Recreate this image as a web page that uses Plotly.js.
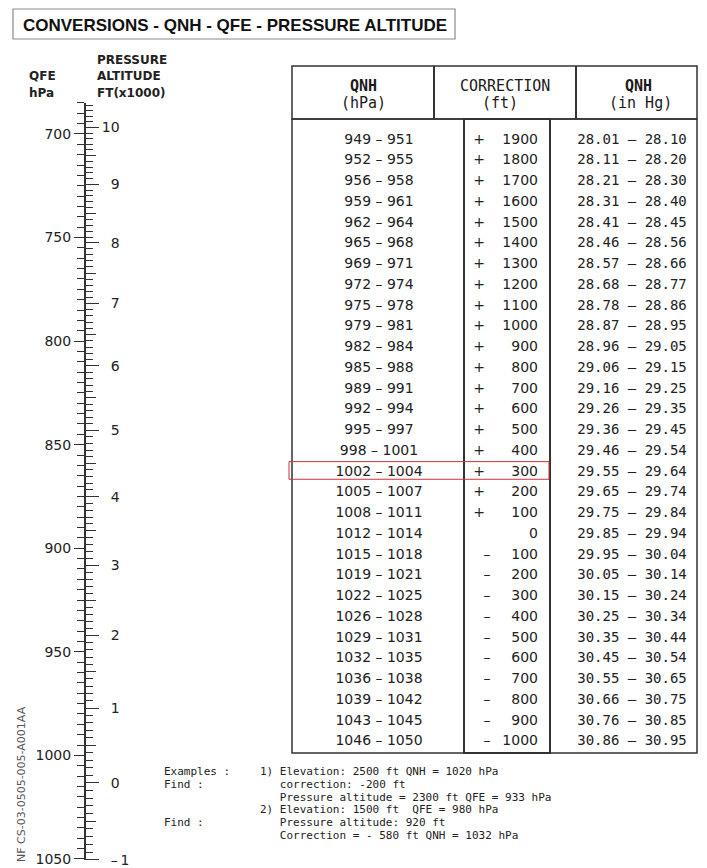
<!DOCTYPE html>
<html><head><meta charset="utf-8">
<script src="https://cdn.plot.ly/plotly-3.0.1.min.js"></script>
<style>html,body{margin:0;padding:0;background:#fff}#chart{width:707px;height:868px}</style>
</head><body><div id="chart"></div>
<script>
// ---------- data ----------
const qfeTickLabels = [700, 750, 800, 850, 900, 950, 1000, 1050];      // hPa
const altitudeTickLabels = [-1, 0, 1, 2, 3, 4, 5, 6, 7, 8, 9, 10];      // ft x1000
const qnhLow  = [949,952,956,959,962,965,969,972,975,979,982,985,989,992,995,998,1002,1005,1008,1012,1015,1019,1022,1026,1029,1032,1036,1039,1043,1046];
const qnhHigh = [951,955,958,961,964,968,971,974,978,981,984,988,991,994,997,1001,1004,1007,1011,1014,1018,1021,1025,1028,1031,1035,1038,1042,1045,1050];
const correctionFt = [1900,1800,1700,1600,1500,1400,1300,1200,1100,1000,900,800,700,600,500,400,300,200,100,0,-100,-200,-300,-400,-500,-600,-700,-800,-900,-1000];
const inHgLow  = ['28.01','28.11','28.21','28.31','28.41','28.46','28.57','28.68','28.78','28.87','28.96','29.06','29.16','29.26','29.36','29.46','29.55','29.65','29.75','29.85','29.95','30.05','30.15','30.25','30.35','30.45','30.55','30.66','30.76','30.86'];
const inHgHigh = ['28.10','28.20','28.30','28.40','28.45','28.56','28.66','28.77','28.86','28.95','29.05','29.15','29.25','29.35','29.45','29.54','29.64','29.74','29.84','29.94','30.04','30.14','30.24','30.34','30.44','30.54','30.65','30.75','30.85','30.95'];
const highlightRow = 16; // 1002 - 1004
const headerTop = ['QNH', 'CORRECTION', 'QNH'];
const headerBottom = ['(hPa)', '(ft)', '(in Hg)'];
const exampleLabels = ['Examples :', 'Find :', '', '', 'Find :', ''];
const exampleLines = [
  '1) Elevation: 2500 ft QNH = 1020 hPa',
  '   correction: -200 ft',
  '   Pressure altitude = 2300 ft QFE = 933 hPa',
  '2) Elevation: 1500 ft  QFE = 980 hPa',
  '   Pressure altitude: 920 ft',
  '   Correction = - 580 ft QNH = 1032 hPa'
];

// ---------- layout helpers ----------
const W = 707, H = 868;
const py = p => 1 - p / H;
const isaPressure = ft => 1013.25 * Math.pow(1 - 6.8756e-6 * ft, 5.2559);

// scale panel
const SCALE_MIN = 685, SCALE_MAX = 1050.6, PX700 = 134, PXPERHPA = 725 / 350;
const pxOf = v => PX700 + (v - 700) * PXPERHPA;
const scaleDomain = [1 - pxOf(SCALE_MAX) / H, 1 - pxOf(SCALE_MIN) / H];
const AXIS_X = 84 / W;

const altMinor = [], altMid = [];
for (let ft = -1000; ft <= 10500; ft += 100) {
  const p = isaPressure(ft);
  if (p < SCALE_MIN || p > SCALE_MAX) continue;
  if (ft % 1000 === 0) continue;
  if (ft % 500 === 0) altMid.push(p); else altMinor.push(p);
}
const altText = a => a === 10 ? '10' : (a < 0 ? '\u2007\u2013\u2009' + Math.abs(a) : '\u2007' + a);

// table rows
const ROW0 = 140, ROWH = 20.75;
const rowRange = [(H - ROW0) / ROWH, -ROW0 / ROWH];
const rows = qnhLow.map((_, i) => i);

const col = { qnh: 379, sign: 479, num: 538, hg: 632 };
const tfont = { family: 'DejaVu Sans, sans-serif', size: 14, color: '#222' };
const ink = '#333';

const traces = [
  { x: [], y: [], xaxis: 'x', yaxis: 'y', type: 'scatter', hoverinfo: 'skip', showlegend: false },
  { x: [], y: [], xaxis: 'x', yaxis: 'y2', type: 'scatter', hoverinfo: 'skip', showlegend: false },
  { x: [], y: [], xaxis: 'x', yaxis: 'y3', type: 'scatter', hoverinfo: 'skip', showlegend: false },
  { x: rows.map(() => col.qnh), y: rows, text: rows.map(i => qnhLow[i] + ' \u2013 ' + qnhHigh[i]),
    mode: 'text', textposition: 'middle center', textfont: tfont, xaxis: 'x', yaxis: 'y4', hoverinfo: 'skip', showlegend: false },
  { x: rows.map(i => correctionFt[i] > 0 ? col.sign : col.sign + 8), y: rows,
    text: rows.map(i => correctionFt[i] > 0 ? '+' : (correctionFt[i] < 0 ? '\u2013' : '')),
    mode: 'text', textposition: 'middle center', textfont: tfont, xaxis: 'x', yaxis: 'y4', hoverinfo: 'skip', showlegend: false },
  { x: rows.map(() => col.num), y: rows, text: rows.map(i => String(Math.abs(correctionFt[i]))),
    mode: 'text', textposition: 'middle left', textfont: tfont, xaxis: 'x', yaxis: 'y4', hoverinfo: 'skip', showlegend: false },
  { x: rows.map(() => col.hg), y: rows, text: rows.map(i => inHgLow[i] + '\u2009\u2013\u2009' + inHgHigh[i]),
    mode: 'text', textposition: 'middle center', textfont: { family: 'DejaVu Sans Mono, monospace', size: 14, color: '#222' },
    xaxis: 'x', yaxis: 'y4', hoverinfo: 'skip', showlegend: false }
];

const line = (x0, y0, x1, y1, w, c) => ({ type: 'line', xref: 'x', yref: 'paper', x0, x1, y0: py(y0), y1: py(y1), line: { color: c || ink, width: w || 1.5 } });
const rect = (x0, y0, x1, y1, w, c) => ({ type: 'rect', xref: 'x', yref: 'paper', x0, x1, y0: py(y0), y1: py(y1), line: { color: c || ink, width: w || 1.5 }, fillcolor: 'rgba(0,0,0,0)' });

const TL = 292, TR = 697, HT = 66, HB = 119, BB = 753, CL = 464, CR = 550, HD1 = 434, HD2 = 576;
const shapes = [
  rect(13, 9, 455, 39, 1.2, '#8a8a8a'),
  rect(TL, HT, TR, HB, 1.5),
  line(HD1, HT, HD1, HB, 2), line(HD2, HT, HD2, HB, 2),
  rect(TL, HB, TR, BB, 1.5),
  rect(CL, HB, CR, BB, 2),
  { type: 'rect', xref: 'x', yref: 'y4', x0: 289, x1: 549, y0: highlightRow - 0.5, y1: highlightRow + 0.35,
    line: { color: '#c8323c', width: 1 }, fillcolor: 'rgba(0,0,0,0)' }
];

const ann = (text, x, y, opts) => Object.assign({ text, x, y: py(y), xref: 'x', yref: 'paper', showarrow: false,
  xanchor: 'left', yanchor: 'middle', font: { family: 'DejaVu Sans, sans-serif', size: 12, color: '#222' } }, opts || {});
const boldLab = { family: 'DejaVu Sans, sans-serif', size: 12, color: '#222' };
const headFont = { family: 'DejaVu Sans Mono, monospace', size: 15, color: '#1a1a1a' };
const monoFont = { family: 'DejaVu Sans Mono, monospace', size: 11, color: '#222' };

const annotations = [
  ann('<b>QFE</b>', 27, 76, { font: boldLab }),
  ann('<b>hPa</b>', 27, 93, { font: boldLab }),
  ann('<b>PRESSURE</b>', 95, 60, { font: boldLab }),
  ann('<b>ALTITUDE</b>', 95, 76, { font: boldLab }),
  ann('<b>FT(x1000)</b>', 95, 93, { font: boldLab }),
  ann('<b>' + headerTop[0] + '</b>', 363, 86, { xanchor: 'center', font: headFont }),
  ann(headerBottom[0], 363, 103, { xanchor: 'center', font: headFont }),
  ann(headerTop[1], 505, 86, { xanchor: 'center', font: headFont }),
  ann(headerBottom[1], 500, 103, { xanchor: 'center', font: headFont }),
  ann('<b>' + headerTop[2] + '</b>', 638, 86, { xanchor: 'center', font: headFont }),
  ann(headerBottom[2], 640, 103, { xanchor: 'center', font: headFont }),
  ann('NF CS-03-0505-005-A001AA', 21, 784, { xanchor: 'center', textangle: -90,
    font: { family: 'DejaVu Sans, sans-serif', size: 11, color: '#555' } })
];
const exY = [771, 784, 797, 809, 822, 835];
exampleLines.forEach((t, i) => {
  if (exampleLabels[i]) annotations.push(ann(exampleLabels[i], 162, exY[i], { font: monoFont }));
  annotations.push(ann(t.replace(/ /g, '\u00a0'), 258, exY[i], { font: monoFont }));
});

const layout = {
  width: W, height: H, margin: { l: 0, r: 0, t: 0, b: 0 },
  paper_bgcolor: '#fff', plot_bgcolor: 'rgba(0,0,0,0)', showlegend: false,
  title: { text: '<b>CONVERSIONS - QNH - QFE - PRESSURE ALTITUDE</b>', x: 23 / W, xanchor: 'left', xref: 'paper',
    y: py(25), yanchor: 'middle', yref: 'paper',
    font: { family: 'Liberation Sans, Arial, sans-serif', size: 17, color: '#111' } },
  xaxis: { domain: [0, 1], range: [0, W], visible: false, fixedrange: true },
  yaxis: { domain: scaleDomain, range: [SCALE_MAX, SCALE_MIN], anchor: 'free', position: AXIS_X, side: 'left',
    showline: true, linecolor: ink, linewidth: 1.5, showgrid: false, zeroline: false, fixedrange: true,
    ticks: 'outside', ticklen: 10, tickwidth: 1, tickcolor: ink,
    tickmode: 'array', tickvals: qfeTickLabels, ticktext: qfeTickLabels.map(String),
    tickfont: { family: 'DejaVu Sans, sans-serif', size: 14, color: '#222' },
    minor: { tickmode: 'linear', tick0: 685, dtick: 5, ticks: 'outside', ticklen: 7, tickwidth: 1, tickcolor: ink, showgrid: false } },
  yaxis2: { overlaying: 'y', range: [SCALE_MAX, SCALE_MIN], anchor: 'free', position: AXIS_X, side: 'right',
    showline: false, showgrid: false, zeroline: false, fixedrange: true,
    ticks: 'outside', ticklen: 14, tickwidth: 1, tickcolor: ink,
    tickmode: 'array', tickvals: altitudeTickLabels.map(a => isaPressure(a * 1000)), ticktext: altitudeTickLabels.map(altText),
    tickfont: { family: 'DejaVu Sans, sans-serif', size: 14, color: '#222' },
    minor: { tickmode: 'array', tickvals: altMinor, ticks: 'outside', ticklen: 8, tickwidth: 1, tickcolor: ink, showgrid: false } },
  yaxis3: { overlaying: 'y', range: [SCALE_MAX, SCALE_MIN], anchor: 'free', position: AXIS_X, side: 'right',
    showline: false, showgrid: false, zeroline: false, fixedrange: true, showticklabels: false,
    ticks: 'outside', ticklen: 11, tickwidth: 1, tickcolor: ink, tickmode: 'array', tickvals: altMid },
  yaxis4: { domain: [0, 1], range: rowRange, anchor: 'x', visible: false, fixedrange: true },
  shapes, annotations
};

Plotly.newPlot('chart', traces, layout, { displayModeBar: false, staticPlot: true });
</script></body></html>
